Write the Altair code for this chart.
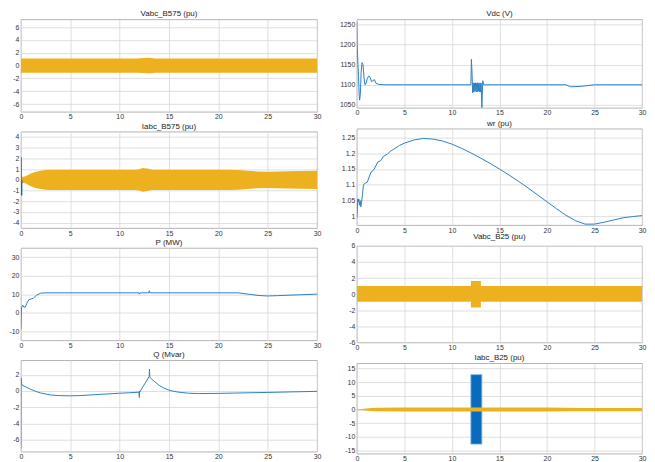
import altair as alt
import pandas as pd

BLUE = "#2b80c5"
DARKBLUE = "#0a6bbd"
RED = "#D95319"
YELLOW = "#EDB120"
FONT = "Liberation Sans"
X_TICKS = [0, 5, 10, 15, 20, 25, 30]

# ---- Vabc_B575 (pu): envelope of the three-phase band ----
vb575_t = [0, 11.8, 12.4, 13.0, 13.6, 30]
vb575_hi = [1.1, 1.1, 1.18, 1.2, 1.1, 1.1]
vb575_lo = [-1.1, -1.1, -1.15, -1.22, -1.1, -1.1]

# ---- Vdc (V) ----
vdc_t = [0, 0.03, 0.08, 0.12, 0.18, 0.25, 0.3, 0.38, 0.45, 0.55, 0.65, 0.75, 0.85, 0.95,
         1.1, 1.25, 1.4, 1.55, 1.7, 1.85, 2.0, 2.3, 3.0, 12.0, 12.05, 12.12, 12.18, 12.24,
         12.3, 12.36, 12.42, 12.48, 12.54, 12.6, 12.66, 12.72, 12.78, 12.84, 12.9, 12.96,
         13.02, 13.08, 13.15, 13.25, 13.35, 22.0, 22.5, 23.5, 25.0, 30.0]
vdc_v = [1255, 1200, 1175, 1150, 1120, 1075, 1062, 1080, 1130, 1155, 1150, 1120, 1100, 1102,
         1115, 1122, 1118, 1108, 1110, 1113, 1104, 1101, 1100, 1100, 1163, 1130, 1080, 1105,
         1082, 1104, 1084, 1105, 1083, 1104, 1082, 1105, 1084, 1104, 1083, 1105, 1082,
         1104, 1043, 1110, 1100, 1100, 1095, 1096, 1100, 1100]

# ---- Iabc_B575 (pu) ----
ib575_t = [0, 0.3, 0.5, 1.0, 1.5, 2.0, 2.5, 3.0, 11.5, 12.0, 12.3, 12.8, 13.3, 20.0, 21.0,
           22.0, 23.0, 24.0, 25.0, 27.0, 30.0]
ib575_hi = [0.3, 0.3, 0.35, 0.6, 0.75, 0.85, 0.92, 0.95, 0.95, 1.0, 1.1, 1.05, 0.95, 0.95,
            0.95, 0.93, 0.85, 0.78, 0.76, 0.8, 0.85]
ib575_lo = [-0.3, -0.3, -0.35, -0.6, -0.75, -0.85, -0.92, -0.95, -0.95, -1.0, -1.1, -1.05,
            -0.95, -0.95, -0.95, -0.93, -0.85, -0.78, -0.76, -0.8, -0.85]
ib575_spike_t = [0.03, 0.07]
ib575_spike_lo = [0.0, -1.45]
ib575_spike_hi = [2.1, 0.0]
ib575_spike_phase = ["b", "a"]

# ---- wr (pu) ----
wr_t = [0, 0.05, 0.1, 0.15, 0.2, 0.28, 0.35, 0.42, 0.5, 0.6, 0.7, 0.9, 1.1, 1.3, 1.5, 1.8,
        2.0, 2.2, 2.5, 2.8, 3.2, 3.6, 4.0, 4.5, 5, 6, 7, 8, 9, 10, 11, 12, 13, 14, 15, 16,
        17, 18, 19, 20, 21, 22, 23, 24, 25, 26, 27, 28, 29, 30]
wr_v = [0.995, 1.02, 1.055, 1.045, 1.055, 1.035, 1.05, 1.03, 1.045, 1.07, 1.1, 1.105,
        1.108, 1.125, 1.14, 1.148, 1.16, 1.172, 1.176, 1.19, 1.197, 1.208, 1.215, 1.225,
        1.232, 1.242, 1.247, 1.245, 1.239, 1.229, 1.216, 1.201, 1.185, 1.168, 1.15, 1.131,
        1.111, 1.09, 1.068, 1.046, 1.024, 1.003, 0.986, 0.975, 0.975, 0.981, 0.988, 0.995,
        0.999, 1.002]

# ---- P (MW) ----
p_t = [0, 0.02, 0.05, 0.12, 0.2, 0.3, 0.45, 0.6, 0.8, 1.1, 1.3, 1.6, 2.0, 2.5, 11.95, 12.0,
       12.05, 12.95, 13.0, 13.05, 22.0, 23.0, 24.0, 25.0, 26.0, 28.0, 30.0]
p_v = [-9, -5, 2, 3.5, 4, 3, 3, 5, 7, 7.5, 8, 9.5, 10.5, 10.7, 10.7, 10.0, 10.7, 10.7, 11.8,
       10.7, 10.7, 10.0, 9.3, 9.0, 9.2, 9.6, 10.0]

# ---- Vabc_B25 (pu) ----
vb25_t = [0, 12.0, 12.0, 13.05, 13.05, 30]
vb25_hi = [1.0, 1.0, 1.65, 1.65, 1.0, 1.0]
vb25_lo = [-0.95, -0.95, -1.65, -1.65, -0.95, -0.95]

# ---- Q (Mvar) ----
q_t = [0, 0.01, 0.05, 0.15, 0.5, 1, 1.5, 2, 3, 4, 5, 6, 7, 8, 9, 10, 11, 11.95, 12.0, 12.02,
       12.05, 13.0, 13.02, 13.05, 13.5, 14, 14.5, 15, 15.5, 16, 17, 18, 20, 22, 25, 28, 30]
q_v = [-7.1, 1.6, 0.9, 0.7, 0.5, 0.2, -0.05, -0.25, -0.5, -0.58, -0.6, -0.57, -0.5, -0.42,
       -0.35, -0.28, -0.22, -0.15, -0.8, 0.0, -0.1, 1.8, 2.7, 1.7, 1.2, 0.7, 0.35, 0.1, -0.05,
       -0.15, -0.28, -0.32, -0.3, -0.25, -0.18, -0.1, -0.05]

# ---- Iabc_B25 (pu) ----
ib25_t = [0, 0.5, 1, 1.5, 2, 5, 10, 15, 20, 22, 24, 26, 30]
ib25_hi = [0.1, 0.2, 0.4, 0.55, 0.65, 0.7, 0.7, 0.7, 0.7, 0.65, 0.6, 0.6, 0.6]
ib25_lo = [-0.1, -0.2, -0.4, -0.55, -0.65, -0.7, -0.7, -0.7, -0.7, -0.65, -0.6, -0.6, -0.6]
ib25_block_t = [12.0]
ib25_block_t2 = [13.15]
ib25_block_lo = [-12.7]
ib25_block_hi = [12.8]

LABEL_EXPR = "'' + datum.value"


def xenc(field="t"):
    return alt.X(f"{field}:Q", scale=alt.Scale(domain=[0, 30], nice=False),
                 axis=alt.Axis(values=X_TICKS, title=None, labelExpr=LABEL_EXPR))


def yscale(dom):
    return alt.Scale(domain=dom, nice=False, zero=False)


def yaxis(ticks):
    return alt.Axis(values=ticks, title=None, labelExpr=LABEL_EXPR)


def band(t, hi, lo, dom, ticks, color=YELLOW):
    df = pd.DataFrame({"t": t, "hi": hi, "lo": lo})
    return alt.Chart(df).mark_area(color=color, opacity=1, clip=True, interpolate="linear").encode(
        x=xenc(),
        y=alt.Y("hi:Q", scale=yscale(dom), axis=yaxis(ticks)),
        y2="lo:Q",
    )


def line(t, v, dom, ticks, color=BLUE):
    df = pd.DataFrame({"t": t, "v": v, "i": list(range(len(t)))})
    return alt.Chart(df).mark_line(color=color, strokeWidth=1, clip=True).encode(
        x=xenc(),
        y=alt.Y("v:Q", scale=yscale(dom), axis=yaxis(ticks)),
        order="i:Q",
    )


LW = 298
RW = 287

# Panels
d1 = [-7.2, 7.2]
p1 = band(vb575_t, vb575_hi, vb575_lo, d1, [-6, -4, -2, 0, 2, 4, 6]).properties(
    title="Vabc_B575 (pu)", width=LW, height=93)

d2 = [1043, 1262]
p2 = line(vdc_t, vdc_v, d2, [1050, 1100, 1150, 1200, 1250]).properties(
    title="Vdc (V)", width=RW, height=89)

d3 = [-4.5, 4.5]
t3 = [-4, -3, -2, -1, 0, 1, 2, 3, 4]
spk = pd.DataFrame({"t": ib575_spike_t, "hi": ib575_spike_hi, "lo": ib575_spike_lo,
                    "ph": ib575_spike_phase})
spikes = alt.Chart(spk).mark_rule(strokeWidth=1.5, clip=True).encode(
    x=xenc(),
    y=alt.Y("hi:Q", scale=yscale(d3), axis=yaxis(t3)),
    y2="lo:Q",
    color=alt.Color("ph:N", scale=alt.Scale(domain=["a", "b"], range=[DARKBLUE, RED]), legend=None),
)
p3 = alt.layer(
    band(ib575_t, ib575_hi, ib575_lo, d3, t3), spikes
).properties(title="Iabc_B575 (pu)", width=LW, height=97)

d4 = [0.972, 1.278]
p4 = line(wr_t, wr_v, d4, [1.0, 1.05, 1.1, 1.15, 1.2, 1.25]).properties(
    title="wr (pu)", width=RW, height=97)

d5 = [-15, 35]
p5 = line(p_t, p_v, d5, [-10, 0, 10, 20, 30]).properties(
    title="P (MW)", width=LW, height=93)

d6 = [-6, 6]
p6 = band(vb25_t, vb25_hi, vb25_lo, d6, [-6, -4, -2, 0, 2, 4, 6]).properties(
    title="Vabc_B25 (pu)", width=RW, height=97)

d7 = [-7.5, 3.8]
p7 = line(q_t, q_v, d7, [-6, -4, -2, 0, 2]).properties(
    title="Q (Mvar)", width=LW, height=92)

d8 = [-16.2, 17]
t8 = [-15, -10, -5, 0, 5, 10, 15]
blk = pd.DataFrame({"t": ib25_block_t, "t2": ib25_block_t2, "hi": ib25_block_hi,
                    "lo": ib25_block_lo})
block = alt.Chart(blk).mark_rect(color=DARKBLUE, stroke="#6fb3e6", strokeWidth=0.8, clip=True).encode(
    x=xenc(),
    x2="t2:Q",
    y=alt.Y("hi:Q", scale=yscale(d8), axis=yaxis(t8)),
    y2="lo:Q",
)
p8 = alt.layer(
    block, band(ib25_t, ib25_hi, ib25_lo, d8, t8)
).properties(title="Iabc_B25 (pu)", width=RW, height=91)

left = alt.vconcat(p1, p3, p5, p7, spacing=20, bounds="flush")
right = alt.vconcat(p2, p4, p6, p8, spacing=21, bounds="flush")

chart = alt.hconcat(left, right, spacing=17).properties(
    padding=0, background="white"
).configure_view(
    stroke="#a0a0a0", strokeWidth=0.8
).configure_axis(
    domain=False, ticks=False, grid=True, gridColor="#d6d6d6", gridWidth=0.8,
    labelFont=FONT, labelFontSize=7, labelColor="#333333", labelPadding=2,
    labelOverlap=False, labelFlush=False,
).configure_axisX(
    labelPadding=1
).configure_title(
    font=FONT, fontSize=8, fontWeight="normal", color="#222222", offset=1
)

chart.save("out.html", embed_options={"renderer": "svg", "actions": False})
